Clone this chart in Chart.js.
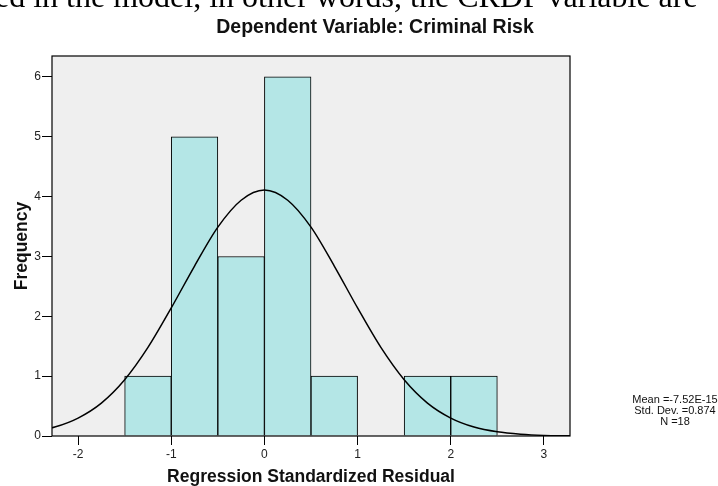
<!DOCTYPE html>
<html>
<head>
  <meta charset="UTF-8">
  <title>Dependent Variable: Criminal Risk</title>
  <style>
    body {
      margin: 0;
      background: #fff;
      font-family: "Liberation Sans", Arial, sans-serif;
    }
    #wrap {
      position: relative;
      width: 718px;
      height: 486px;
      overflow: hidden;
    }
    #topline {
      position: absolute;
      left: -5px;
      top: -20px;
      font-family: "Liberation Serif", "Times New Roman", serif;
      font-size: 32px;
      line-height: 32px;
      white-space: nowrap;
      color: #000;
    }
    #title {
      position: absolute;
      left: 175px;
      width: 400px;
      top: 16px;
      text-align: center;
      font-weight: bold;
      font-size: 19.5px;
      line-height: 20px;
      color: #111;
    }
    #stats {
      position: absolute;
      left: 615px;
      width: 120px;
      top: 394px;
      text-align: center;
      font-size: 11px;
      line-height: 11px;
      color: #111;
    }
    canvas {
      position: absolute;
      left: 0;
      top: 0;
    }
  </style>
  <script src="https://cdn.jsdelivr.net/npm/chart.js"></script>
</head>
<body>
  <div id="wrap">
    <canvas id="hist" width="718" height="486"></canvas>
    <div id="topline">ed in the model, in other words, the CRDP variable are</div>
    <div id="title">Dependent Variable: Criminal Risk</div>
    <div id="stats">Mean =-7.52E-15<br>Std. Dev. =0.874<br>N =18</div>
  </div>

  <script>
  // histogram bins (centre of each 0.5 wide bin) and counts
  const binCenters = [-1.25, -0.75, -0.25, 0.25, 0.75, 1.25, 1.75, 2.25];
  const binCounts = [1, 5, 3, 6, 1, 0, 1, 1];

  // normal curve
  const curveX = [-2.5, -2.25, -2, -1.75, -1.5, -1.25, -1, -0.75, -0.5, -0.25, 0,
                  0.25, 0.5, 0.75, 1, 1.25, 1.5, 1.75, 2, 2.25, 2.5, 2.75, 3, 3.25, 3.5];
  const curveY = [0.07, 0.15, 0.30, 0.55, 0.94, 1.48, 2.14, 2.84, 3.49, 3.94, 4.11,
                  3.94, 3.49, 2.84, 2.14, 1.48, 0.94, 0.55, 0.30, 0.15, 0.07, 0.03, 0.01, 0.004, 0.001];

  const xTicks = [-2, -1, 0, 1, 2, 3];
  const yTicks = [0, 1, 2, 3, 4, 5, 6];

  const plotBox = {
    id: "plotBox",
    beforeDatasetsDraw(chart) {
      const a = chart.chartArea;
      const ctx = chart.ctx;
      ctx.save();
      ctx.fillStyle = "#efefef";
      ctx.fillRect(a.left, a.top, a.right - a.left, a.bottom - a.top);
      ctx.restore();
    },
    afterDatasetsDraw(chart) {
      const a = chart.chartArea;
      const ctx = chart.ctx;
      ctx.save();
      ctx.strokeStyle = "#000";
      ctx.lineWidth = 1.2;
      ctx.strokeRect(a.left, a.top, a.right - a.left, a.bottom - a.top);
      ctx.restore();
    }
  };

  const tickFont = { family: "Liberation Sans, Arial", size: 12 };
  const axisTitleFont = { family: "Liberation Sans, Arial", size: 17.5, weight: "bold", lineHeight: 1 };

  new Chart(document.getElementById("hist").getContext("2d"), {
    type: "bar",
    data: {
      datasets: [{
        type: "line",
        data: curveX.map((x, i) => ({ x: x, y: curveY[i] })),
        borderColor: "#000",
        borderWidth: 1.5,
        pointRadius: 0,
        cubicInterpolationMode: "monotone",
        fill: false,
        order: 0
      }, {
        type: "bar",
        data: binCenters.map((x, i) => ({ x: x, y: binCounts[i] })),
        backgroundColor: "#b4e6e6",
        borderColor: "#000",
        borderWidth: 1,
        barPercentage: 1,
        categoryPercentage: 1,
        order: 1
      }]
    },
    options: {
      responsive: false,
      animation: false,
      layout: { padding: { top: 56, right: 148, left: 0, bottom: 0 } },
      plugins: {
        legend: { display: false },
        tooltip: { enabled: false }
      },
      scales: {
        x: {
          type: "linear",
          min: -2.28,
          max: 3.28,
          offset: false,
          afterFit(s) { s.height = 50; },
          afterBuildTicks(s) { s.ticks = xTicks.map(v => ({ value: v })); },
          grid: { display: true, drawOnChartArea: false, offset: false, tickLength: 9, color: "#000", tickColor: "#000" },
          border: { display: false },
          ticks: { font: tickFont, color: "#222", padding: 2 },
          title: {
            display: true,
            text: "Regression Standardized Residual",
            font: axisTitleFont,
            color: "#111",
            padding: { top: 4, bottom: 0 }
          }
        },
        y: {
          min: 0,
          max: 6.35,
          afterFit(s) { s.width = 52; },
          afterBuildTicks(s) { s.ticks = yTicks.map(v => ({ value: v })); },
          grid: { display: true, drawOnChartArea: false, tickLength: 10, color: "#000", tickColor: "#000" },
          border: { display: false },
          ticks: { font: tickFont, color: "#222", padding: 1 },
          title: {
            display: true,
            text: "Frequency",
            font: axisTitleFont,
            color: "#111",
            padding: { top: 13, bottom: 0 }
          }
        }
      }
    },
    plugins: [plotBox]
  });
  </script>
</body>
</html>
